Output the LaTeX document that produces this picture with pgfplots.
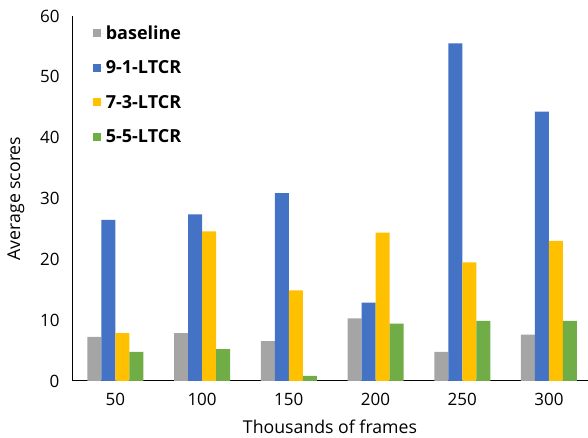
\documentclass[border=0pt]{standalone}
\usepackage{fontspec}
\setmainfont{Open Sans}
\usepackage{pgfplots}
\pgfplotsset{compat=1.18}
\definecolor{cgray}{HTML}{A5A5A5}
\definecolor{cblue}{HTML}{4472C4}
\definecolor{cgold}{HTML}{FFC000}
\definecolor{cgreen}{HTML}{70AD47}
\begin{document}
\begin{tikzpicture}
\begin{axis}[
  at={(0pt,0pt)}, anchor=south west,
  scale only axis, width=516pt, height=365pt,
  xmin=-0.5, xmax=5.45, ymin=0, ymax=60,
  axis lines*=left,
  axis line style={black, line width=1pt},
  ytick={0,10,...,60},
  xtick={0,1,2,3,4,5},
  xticklabels={50,100,150,200,250,300},
  major tick length=0pt,
  ybar=0pt, bar width=14pt,
  /pgf/number format/assume math mode=true,
  tick label style={font=\fontsize{17}{20}\selectfont},
  yticklabel style={xshift=-9pt},
  xticklabel style={yshift=-9pt},
  xlabel={Thousands of frames},
  ylabel={Average scores},
  label style={font=\fontsize{17.7}{20}\selectfont},
  xlabel style={at={(axis description cs:0.5,0)}, anchor=center, yshift=-46pt},
  ylabel style={at={(axis description cs:-0.1085,0.5)}, anchor=center},
  legend style={at={(axis description cs:0.04,0.98)}, anchor=north west,
    draw=none, fill=none, font=\bfseries\fontsize{18}{21}\selectfont,
    row sep=16pt, inner sep=0pt},
  legend cell align=left,
  legend image code/.code={\fill[#1] (0pt,-4pt) rectangle (8pt,4pt); \path (0pt,0pt) -- (11pt,0pt);},
]
\addplot[fill=cgray, draw=none] coordinates {(0,7.27) (1,7.86) (2,6.55) (3,10.3) (4,4.8) (5,7.64)};
\addplot[fill=cblue, draw=none] coordinates {(0,26.5) (1,27.4) (2,30.9) (3,12.9) (4,55.5) (5,44.3)};
\addplot[fill=cgold, draw=none] coordinates {(0,7.86) (1,24.6) (2,14.9) (3,24.4) (4,19.5) (5,23.05)};
\addplot[fill=cgreen, draw=none] coordinates {(0,4.8) (1,5.23) (2,0.85) (3,9.45) (4,9.9) (5,9.9)};
\legend{baseline,9-1-LTCR,7-3-LTCR,5-5-LTCR}
\end{axis}
\pgfresetboundingbox
\path (-72pt,-57pt) rectangle (516pt,381pt);
\end{tikzpicture}
\end{document}
